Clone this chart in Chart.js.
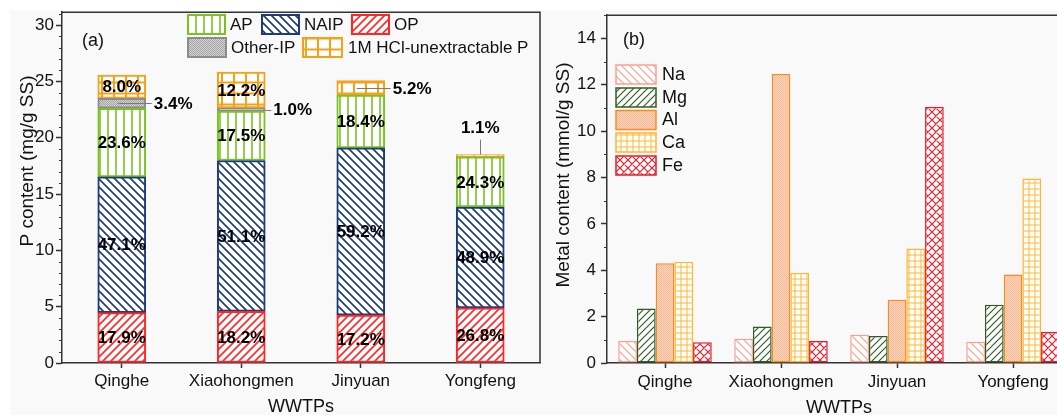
<!DOCTYPE html>
<html><head><meta charset="utf-8">
<script src="https://cdn.jsdelivr.net/npm/chart.js@4.4.1/dist/chart.umd.min.js"></script>
<style>
html,body{margin:0;padding:0;background:#fff;overflow:hidden;width:1057px;height:418px;position:relative;}
#bg{position:absolute;left:10px;top:10px;width:1047px;height:405px;background:#f9f9f9;}
#cl{position:absolute;left:0;top:0;}
#cr{position:absolute;left:540px;top:0;}
</style></head><body>
<div id="bg"></div>
<canvas id="cl" width="545" height="418"></canvas>
<canvas id="cr" width="545" height="418"></canvas>
<script>
// ---------- DATA ----------
const categories = ['Qinghe', 'Xiaohongmen', 'Jinyuan', 'Yongfeng'];
// Panel (a): P content (mg/g SS)
const opValues      = [4.47, 4.59, 4.25, 4.90];
const naipValues    = [12.06, 13.39, 14.85, 8.95];
const apValues      = [6.09, 4.40, 4.70, 4.45];
const otherIpValues = [0.88, 0.26, 0, 0];
const hclValues     = [2.07, 3.20, 1.27, 0.20];
const opLabels      = ['17.9%', '18.2%', '17.2%', '26.8%'];
const naipLabels    = ['47.1%', '51.1%', '59.2%', '48.9%'];
const apLabels      = ['23.6%', '17.5%', '18.4%', '24.3%'];
const otherIpLabels = ['3.4%', '1.0%', '', ''];
const hclLabels     = ['8.0%', '12.2%', '5.2%', '1.1%'];
// Panel (b): Metal content (mmol/g SS)
const naValues = [0.95, 1.05, 1.22, 0.92];
const mgValues = [2.35, 1.57, 1.16, 2.51];
const alValues = [4.30, 12.46, 2.73, 3.82];
const caValues = [4.37, 3.88, 4.94, 7.96];
const feValues = [0.90, 0.95, 11.04, 1.34];
const leftTicks = [0, 5, 10, 15, 20, 25, 30];
const rightTicks = [0, 2, 4, 6, 8, 10, 12, 14];

// ---------- STYLE ----------
const FONT = "'Liberation Sans', Arial, sans-serif";
const AXIS = '#333333';
const TXT = '#111111';

const helper = document.createElement('canvas').getContext('2d');
function pat(kind, color, o) {
  o = o || {};
  const w = o.w || 8, h = o.h || 8;
  const c = document.createElement('canvas'); c.width = w; c.height = h;
  const g = c.getContext('2d');
  g.fillStyle = o.bg || '#ffffff'; g.fillRect(0, 0, w, h);
  g.strokeStyle = color; g.lineWidth = o.lw || 1.5;
  g.beginPath();
  if (kind === 'vert') { g.moveTo(w / 2, -1); g.lineTo(w / 2, h + 1); }
  if (kind === 'back' || kind === 'cross') {
    for (const off of [-w, 0, w]) { g.moveTo(off - 1, -1); g.lineTo(off + w + 1, h + 1); }
  }
  if (kind === 'fwd' || kind === 'cross') {
    for (const off of [-w, 0, w]) { g.moveTo(off - 1, h + 1); g.lineTo(off + w + 1, -1); }
  }
  if (kind === 'grid') { g.moveTo(w / 2, -1); g.lineTo(w / 2, h + 1); g.moveTo(-1, h / 2); g.lineTo(w + 1, h / 2); }
  g.stroke();
  if (kind === 'stipple') {
    g.fillStyle = o.dot;
    for (let yy = 0; yy < h; yy++) for (let xx = 0; xx < w; xx++) if ((xx + yy) % 2 === 0) g.fillRect(xx, yy, 1, 1);
  }
  return helper.createPattern(c, 'repeat');
}

const C = {
  op: '#ff2626', naip: '#1d3b78', ap: '#78c321', other: '#8c8c8c', hcl: '#f5a219',
  na: '#ff9d8b', mg: '#2f5e23', al: '#ff8a1c', ca: '#ffb631', fe: '#e31c2b'
};
const P = {
  op: pat('fwd', C.op, {w: 8, h: 8, lw: 1.6}),
  naip: pat('back', C.naip, {w: 8, h: 8, lw: 1.6}),
  ap: pat('vert', C.ap, {w: 8, h: 8, lw: 1.6}),
  other: pat('stipple', null, {w: 2, h: 2, bg: '#d4d4d4', dot: '#a4a4a4'}),
  hcl: pat('grid', C.hcl, {w: 12, h: 11, lw: 2}),
  na: pat('back', C.na, {w: 8, h: 8, lw: 1.2}),
  mg: pat('fwd', C.mg, {w: 7, h: 7, lw: 1.2}),
  al: pat('stipple', null, {w: 2, h: 2, bg: '#fdd6c0', dot: '#f9b995'}),
  ca: pat('grid', C.ca, {w: 6, h: 6, lw: 1}),
  fe: pat('cross', C.fe, {w: 8, h: 8, lw: 1.2})
};

// ---------- PLUGINS ----------
function frame(drawRight) {
  return {
    id: 'frame',
    afterDraw(chart) {
      const {ctx, chartArea: a} = chart;
      ctx.save(); ctx.strokeStyle = AXIS; ctx.lineWidth = 1.5;
      ctx.beginPath();
      ctx.moveTo(a.left, a.top); ctx.lineTo(drawRight ? a.right : chart.width, a.top);
      if (drawRight) ctx.lineTo(a.right, a.bottom);
      ctx.stroke(); ctx.restore();
    }
  };
}
function minorTicks(step) {
  return {
    id: 'minorTicks',
    afterDraw(chart) {
      const s = chart.scales.y, ctx = chart.ctx;
      ctx.save(); ctx.strokeStyle = AXIS; ctx.lineWidth = 1;
      for (let v = 0; v <= s.max; v += 1) {
        if (v % step === 0) continue;
        const y = Math.round(s.getPixelForValue(v)) + 0.5;
        ctx.beginPath(); ctx.moveTo(s.right - 3, y); ctx.lineTo(s.right, y); ctx.stroke();
      }
      ctx.restore();
    }
  };
}
function yTitle(text, x, y) {
  return {
    id: 'yTitle',
    afterDraw(chart) {
      const ctx = chart.ctx;
      ctx.save(); ctx.translate(x, y); ctx.rotate(-Math.PI / 2);
      ctx.font = '19px ' + FONT; ctx.fillStyle = TXT; ctx.textAlign = 'center'; ctx.textBaseline = 'middle';
      ctx.fillText(text, 0, 0); ctx.restore();
    }
  };
}
function panelTag(text, x, y) {
  return {
    id: 'panelTag',
    afterDraw(chart) {
      const ctx = chart.ctx;
      ctx.save(); ctx.font = '18px ' + FONT; ctx.fillStyle = TXT; ctx.textBaseline = 'middle';
      ctx.fillText(text, x, y); ctx.restore();
    }
  };
}
function legend(items, font) {
  return {
    id: 'customLegend',
    afterDraw(chart) {
      const ctx = chart.ctx;
      ctx.save(); ctx.font = font; ctx.fillStyle = TXT; ctx.textBaseline = 'middle';
      for (const it of items) {
        const ds = chart.data.datasets[it.ds];
        ctx.fillStyle = ds.backgroundColor; ctx.fillRect(it.x, it.y, it.w, it.h);
        ctx.strokeStyle = ds.borderColor; ctx.lineWidth = it.lw;
        ctx.strokeRect(it.x, it.y, it.w, it.h);
        ctx.fillStyle = TXT; ctx.fillText(ds.label, it.tx, it.y + it.h / 2 + 0.5);
      }
      ctx.restore();
    }
  };
}
const pctLabels = [opLabels, naipLabels, apLabels, otherIpLabels, hclLabels];
const outside = [
  {ds: 3, idx: 0, mode: 'side', from: 'center'},
  {ds: 3, idx: 1, mode: 'side', from: 'edge'},
  {ds: 4, idx: 2, mode: 'side', from: 'center'},
  {ds: 4, idx: 3, mode: 'top'}
];
const pctPlugin = {
  id: 'pct',
  afterDatasetsDraw(chart) {
    const ctx = chart.ctx;
    ctx.save(); ctx.font = 'bold 17px ' + FONT; ctx.fillStyle = '#000'; ctx.textBaseline = 'middle';
    chart.data.datasets.forEach((ds, di) => {
      const meta = chart.getDatasetMeta(di);
      meta.data.forEach((el, i) => {
        const t = pctLabels[di][i]; if (!t) return;
        const {x, y, base, width} = el.getProps(['x', 'y', 'base', 'width'], true);
        const mid = (y + base) / 2;
        const o = outside.find(q => q.ds === di && q.idx === i);
        ctx.strokeStyle = '#7a7a7a'; ctx.lineWidth = 1;
        if (!o) { ctx.textAlign = 'center'; ctx.fillText(t, x, mid + 1); }
        else if (o.mode === 'side') {
          const r = x + width / 2;
          const x0 = o.from === 'edge' ? r : x - 4;
          ctx.beginPath(); ctx.moveTo(x0, Math.round(mid) + 0.5); ctx.lineTo(r + 6, Math.round(mid) + 0.5); ctx.stroke();
          ctx.textAlign = 'left'; ctx.fillText(t, r + 8, mid + 1);
        } else {
          ctx.beginPath(); ctx.moveTo(Math.round(x) + 0.5, y); ctx.lineTo(Math.round(x) + 0.5, y - 15); ctx.stroke();
          ctx.textAlign = 'center'; ctx.fillText(t, x, y - 26);
        }
      });
    });
    ctx.restore();
  }
};

function axisCommon() {
  return {
    border: {display: true, color: AXIS, width: 1.5},
  };
}

// ---------- LEFT CHART (a) ----------
const bw = 2;
new Chart(document.getElementById('cl'), {
  type: 'bar',
  data: {
    labels: categories,
    datasets: [
      {label: 'OP', data: opValues, backgroundColor: P.op, borderColor: C.op},
      {label: 'NAIP', data: naipValues, backgroundColor: P.naip, borderColor: C.naip},
      {label: 'AP', data: apValues, backgroundColor: P.ap, borderColor: C.ap},
      {label: 'Other-IP', data: otherIpValues, backgroundColor: P.other, borderColor: C.other},
      {label: '1M HCl-unextractable P', data: hclValues, backgroundColor: P.hcl, borderColor: C.hcl}
    ].map(d => Object.assign(d, {borderWidth: bw, borderSkipped: false, barThickness: 48}))
  },
  options: {
    responsive: false, animation: false, devicePixelRatio: 1,
    layout: {padding: {top: 10, right: 5, left: 0, bottom: 0}},
    plugins: {legend: {display: false}, tooltip: {enabled: false}},
    scales: {
      x: {
        stacked: true,
        border: {display: true, color: AXIS, width: 1.5},
        grid: {display: true, offset: false, drawOnChartArea: false, drawTicks: true, tickLength: 5, tickColor: AXIS, tickWidth: 1.5},
        ticks: {font: {family: FONT, size: 17}, color: TXT, padding: 3, maxRotation: 0, autoSkip: false},
        title: {display: true, text: 'WWTPs', font: {family: FONT, size: 18}, color: TXT, padding: {top: 0, bottom: 0}},
        afterFit: s => { s.height = 55; }
      },
      y: {
        stacked: true, min: 0, max: 31.15,
        border: {display: true, color: AXIS, width: 1.5},
        grid: {display: true, drawOnChartArea: false, drawTicks: true, tickLength: 6, tickColor: AXIS, tickWidth: 1.5},
        ticks: {stepSize: 5, includeBounds: false, autoSkip: false, font: {family: FONT, size: 17}, color: TXT, padding: 2,
          callback: v => leftTicks.includes(v) ? String(v) : ''},
        afterFit: s => { s.width = 62; }
      }
    }
  },
  plugins: [pctPlugin, frame(true), minorTicks(5), yTitle('P content (mg/g SS)', 28, 161), panelTag('(a)', 82, 41),
    legend([
      {ds: 2, x: 188, y: 15, w: 37, h: 19, tx: 230, lw: 2},
      {ds: 1, x: 262, y: 15, w: 37, h: 19, tx: 304, lw: 2},
      {ds: 0, x: 352, y: 15, w: 37, h: 19, tx: 394, lw: 2},
      {ds: 3, x: 188, y: 38, w: 38, h: 19, tx: 231, lw: 2},
      {ds: 4, x: 303, y: 38, w: 39, h: 19, tx: 348, lw: 2}
    ], '17px ' + FONT)]
});

// ---------- RIGHT CHART (b) ----------
new Chart(document.getElementById('cr'), {
  type: 'bar',
  data: {
    labels: categories,
    datasets: [
      {label: 'Na', data: naValues, backgroundColor: P.na, borderColor: C.na},
      {label: 'Mg', data: mgValues, backgroundColor: P.mg, borderColor: C.mg},
      {label: 'Al', data: alValues, backgroundColor: P.al, borderColor: C.al},
      {label: 'Ca', data: caValues, backgroundColor: P.ca, borderColor: C.ca},
      {label: 'Fe', data: feValues, backgroundColor: P.fe, borderColor: C.fe}
    ].map(d => Object.assign(d, {borderWidth: 1.5, borderSkipped: false, categoryPercentage: 0.806, barPercentage: 1.0}))
  },
  options: {
    responsive: false, animation: false, devicePixelRatio: 1,
    layout: {padding: {top: 10, right: 14, left: 0, bottom: 0}},
    plugins: {legend: {display: false}, tooltip: {enabled: false}},
    scales: {
      x: {
        border: {display: true, color: AXIS, width: 1.5},
        grid: {display: true, offset: false, drawOnChartArea: false, drawTicks: true, tickLength: 5, tickColor: AXIS, tickWidth: 1.5},
        ticks: {font: {family: FONT, size: 17}, color: TXT, padding: 4, maxRotation: 0, autoSkip: false},
        title: {display: true, text: 'WWTPs', font: {family: FONT, size: 18}, color: TXT, padding: {top: 0, bottom: -1}},
        afterFit: s => { s.height = 55; }
      },
      y: {
        min: 0, max: 15,
        border: {display: true, color: AXIS, width: 1.5},
        grid: {display: true, drawOnChartArea: false, drawTicks: true, tickLength: 6, tickColor: AXIS, tickWidth: 1.5},
        ticks: {stepSize: 2, includeBounds: false, autoSkip: false, font: {family: FONT, size: 17}, color: TXT, padding: 5,
          callback: v => rightTicks.includes(v) ? String(v) : ''},
        afterFit: s => { s.width = 67; }
      }
    }
  },
  plugins: [frame(false), minorTicks(2), yTitle('Metal content (mmol/g SS)', 24, 175), panelTag('(b)', 83, 40),
    legend([
      {ds: 0, x: 76, y: 65, w: 40, h: 19, tx: 122, lw: 1.5},
      {ds: 1, x: 76, y: 88, w: 40, h: 19, tx: 122, lw: 1.5},
      {ds: 2, x: 76, y: 110.5, w: 40, h: 19, tx: 122, lw: 1.5},
      {ds: 3, x: 76, y: 133, w: 40, h: 19, tx: 122, lw: 1.5},
      {ds: 4, x: 76, y: 156, w: 40, h: 19, tx: 122, lw: 1.5}
    ], '18px ' + FONT)]
});
</script>
</body></html>
